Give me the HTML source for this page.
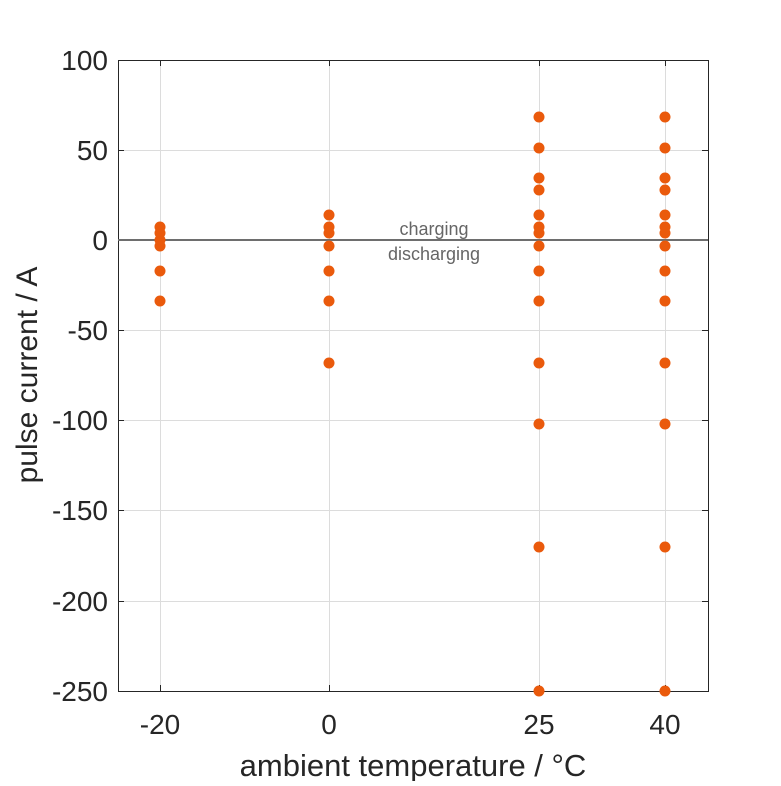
<!DOCTYPE html>
<html><head><style>body{margin:0;background:#fff}</style></head><body>
<svg width="781" height="781" xmlns="http://www.w3.org/2000/svg" font-family="Liberation Sans, Arial, sans-serif">
<rect width="781" height="781" fill="#fff"/>
<g stroke="#dcdcdc" stroke-width="1">
<line x1="118" y1="150.5" x2="708" y2="150.5"/>
<line x1="118" y1="330.5" x2="708" y2="330.5"/>
<line x1="118" y1="420.5" x2="708" y2="420.5"/>
<line x1="118" y1="510.5" x2="708" y2="510.5"/>
<line x1="118" y1="601.5" x2="708" y2="601.5"/>
<line x1="160.5" y1="60" x2="160.5" y2="691"/>
<line x1="329.5" y1="60" x2="329.5" y2="691"/>
<line x1="539.5" y1="60" x2="539.5" y2="691"/>
<line x1="665.5" y1="60" x2="665.5" y2="691"/>
</g>
<rect x="118.5" y="60.5" width="590" height="631" fill="none" stroke="#262626" stroke-width="1"/>
<g stroke="#262626">
<line x1="118" y1="150.5" x2="124" y2="150.5"/><line x1="702" y1="150.5" x2="708" y2="150.5"/>
<line x1="118" y1="330.5" x2="124" y2="330.5"/><line x1="702" y1="330.5" x2="708" y2="330.5"/>
<line x1="118" y1="420.5" x2="124" y2="420.5"/><line x1="702" y1="420.5" x2="708" y2="420.5"/>
<line x1="118" y1="510.5" x2="124" y2="510.5"/><line x1="702" y1="510.5" x2="708" y2="510.5"/>
<line x1="118" y1="601.5" x2="124" y2="601.5"/><line x1="702" y1="601.5" x2="708" y2="601.5"/>
<line x1="160.5" y1="691" x2="160.5" y2="685"/><line x1="329.5" y1="691" x2="329.5" y2="685"/>
<line x1="539.5" y1="691" x2="539.5" y2="685"/><line x1="665.5" y1="691" x2="665.5" y2="685"/>
<line x1="160.5" y1="60" x2="160.5" y2="66"/><line x1="329.5" y1="60" x2="329.5" y2="66"/>
<line x1="539.5" y1="60" x2="539.5" y2="66"/><line x1="665.5" y1="60" x2="665.5" y2="66"/>
</g>
<line x1="118" y1="240" x2="708" y2="240" stroke="#6e6e6e" stroke-width="2"/>
<g fill="#262626" font-size="28" text-anchor="end">
<text x="108" y="70">100</text><text x="108" y="160">50</text><text x="108" y="250">0</text>
<text x="108" y="340">-50</text><text x="108" y="430">-100</text><text x="108" y="520">-150</text>
<text x="108" y="611">-200</text><text x="108" y="701">-250</text>
</g>
<g fill="#262626" font-size="28" text-anchor="middle">
<text x="160" y="734">-20</text><text x="329" y="734">0</text><text x="539" y="734">25</text><text x="665" y="734">40</text>
<text x="413" y="776" font-size="31">ambient temperature / °C</text>
<text transform="translate(37,375) rotate(-90)" font-size="30">pulse current / A</text>
</g>
<g fill="#666" font-size="18" text-anchor="middle">
<text x="434" y="235">charging</text><text x="434" y="260">discharging</text>
</g>
<g fill="#ea5a0c">
<circle cx="160" cy="227" r="5.5"/><circle cx="160" cy="233" r="5.5"/><circle cx="160" cy="240" r="5.5"/><circle cx="160" cy="246" r="5.5"/><circle cx="160" cy="271" r="5.5"/><circle cx="160" cy="301" r="5.5"/>
<circle cx="329" cy="215" r="5.5"/><circle cx="329" cy="227" r="5.5"/><circle cx="329" cy="233" r="5.5"/><circle cx="329" cy="246" r="5.5"/><circle cx="329" cy="271" r="5.5"/><circle cx="329" cy="301" r="5.5"/><circle cx="329" cy="363" r="5.5"/>
<circle cx="539" cy="117" r="5.5"/><circle cx="539" cy="148" r="5.5"/><circle cx="539" cy="178" r="5.5"/><circle cx="539" cy="190" r="5.5"/><circle cx="539" cy="215" r="5.5"/><circle cx="539" cy="227" r="5.5"/><circle cx="539" cy="233" r="5.5"/><circle cx="539" cy="246" r="5.5"/><circle cx="539" cy="271" r="5.5"/><circle cx="539" cy="301" r="5.5"/><circle cx="539" cy="363" r="5.5"/><circle cx="539" cy="424" r="5.5"/><circle cx="539" cy="547" r="5.5"/><circle cx="539" cy="691" r="5.5"/>
<circle cx="665" cy="117" r="5.5"/><circle cx="665" cy="148" r="5.5"/><circle cx="665" cy="178" r="5.5"/><circle cx="665" cy="190" r="5.5"/><circle cx="665" cy="215" r="5.5"/><circle cx="665" cy="227" r="5.5"/><circle cx="665" cy="233" r="5.5"/><circle cx="665" cy="246" r="5.5"/><circle cx="665" cy="271" r="5.5"/><circle cx="665" cy="301" r="5.5"/><circle cx="665" cy="363" r="5.5"/><circle cx="665" cy="424" r="5.5"/><circle cx="665" cy="547" r="5.5"/><circle cx="665" cy="691" r="5.5"/>
</g>
</svg>
</body></html>
